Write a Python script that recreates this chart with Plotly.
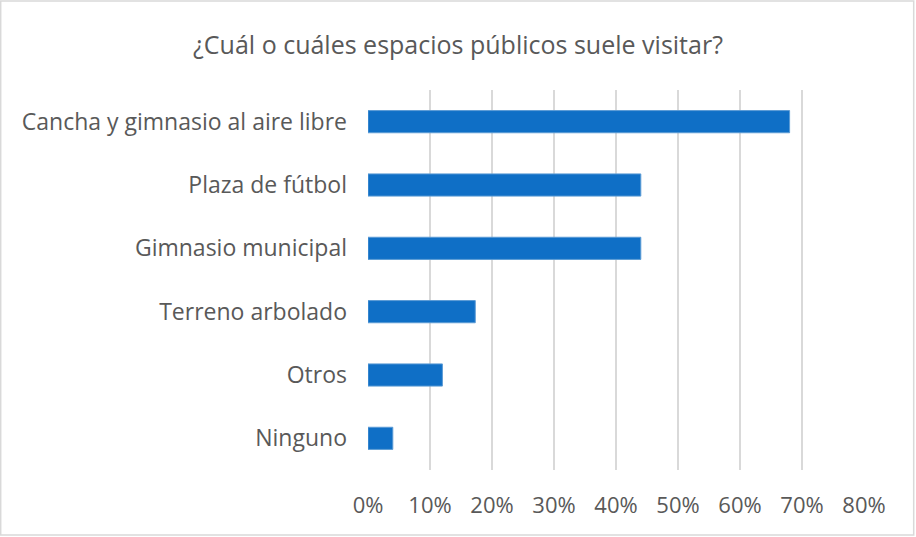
import plotly.graph_objects as go

categories = ["Cancha y gimnasio al aire libre", "Plaza de fútbol", "Gimnasio municipal",
              "Terreno arbolado", "Otros", "Ninguno"]
values = [0.68, 0.44, 0.44, 0.173, 0.12, 0.04]
tick_vals = [0, 0.1, 0.2, 0.3, 0.4, 0.5, 0.6, 0.7, 0.8]
title_text = "¿Cuál o cuáles espacios públicos suele visitar?"

fig = go.Figure(go.Bar(
    x=values, y=categories, orientation="h",
    marker=dict(color="#0F6FC6", line=dict(color="#5B9BD5", width=1)),
    width=0.35,
))

font_family = "Open Sans, Noto Sans, sans-serif"
fig.update_layout(
    width=916, height=537,
    margin=dict(l=368, r=52, t=90, b=67),
    paper_bgcolor="white", plot_bgcolor="white",
    showlegend=False,
    title=dict(text=title_text, x=0.5, xref="container", xanchor="center",
               y=1 - 45 / 537, yref="container", yanchor="middle",
               font=dict(family=font_family, size=25, color="#595959")),
    font=dict(family=font_family, size=22, color="#595959"),
    xaxis=dict(range=[0, 0.8], tickvals=tick_vals, tickformat=".0%",
               showgrid=True, gridcolor="#D9D9D9", gridwidth=1.5,
               zeroline=False, showline=False, ticks="",
               ticklabelstandoff=20, automargin=False,
               tickfont=dict(size=22, color="#595959")),
    yaxis=dict(autorange="reversed", showgrid=False, zeroline=False, showline=False,
               ticks="", ticklabelstandoff=20, automargin=False,
               tickfont=dict(size=23, color="#595959")),
    shapes=[dict(type="rect", xref="paper", yref="paper",
                 x0=(1 - 368.3) / 496, x1=(914 - 368.3) / 496,
                 y0=(470 - 535) / 380, y1=(470 - 1) / 380,
                 line=dict(color="#D9D9D9", width=1.5), fillcolor="rgba(0,0,0,0)",
                 layer="below")],
)

fig.write_html("out.html", config={"displayModeBar": False},
               post_script="document.body.style.margin='0';document.body.style.overflow='hidden';")
